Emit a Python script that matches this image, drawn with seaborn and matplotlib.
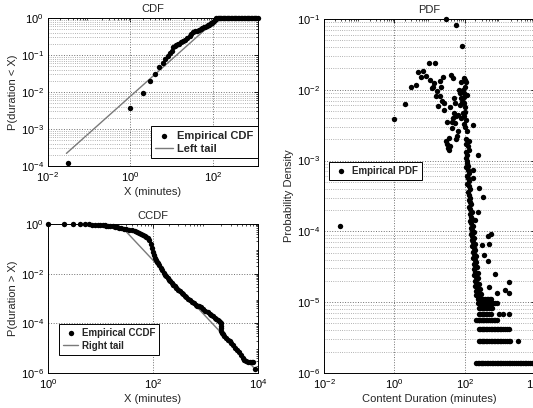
import numpy as np
import pandas as pd
import seaborn as sns
import matplotlib.pyplot as plt
from matplotlib.ticker import LogLocator, NullFormatter

sns.set_style('white')
plt.rcParams['font.family'] = ['Liberation Sans', 'DejaVu Sans']
plt.rcParams['mathtext.fontset'] = 'custom'
plt.rcParams['mathtext.rm'] = 'Liberation Sans'
plt.rcParams['mathtext.default'] = 'regular'

# CDF (empirico + cauda esquerda)
cdf_x = [0.03, 1, 2, 3, 4, 5, 6, 7, 8, 9,
         10, 11, 12, 13, 14, 15, 17, 19, 21, 24,
         27, 30, 33, 36, 40, 45, 50, 55, 60, 65,
         70, 75, 80, 85, 90, 95, 100, 105, 110, 115,
         120, 130, 140, 150, 160, 170, 185, 200, 215, 230,
         250, 270, 290, 315, 340, 370, 400, 430, 470, 510,
         550, 600, 650, 700, 760, 820, 890, 960, 1040, 1120,
         1200]
cdf_y = [1.2e-4, 0.0037, 0.0093, 0.02, 0.031, 0.048, 0.06, 0.078, 0.095, 0.11,
         0.13, 0.16, 0.175, 0.185, 0.195, 0.2, 0.22, 0.24, 0.25, 0.29,
         0.33, 0.37, 0.42, 0.44, 0.45, 0.47, 0.5, 0.53, 0.56, 0.58,
         0.6, 0.63, 0.66, 0.69, 0.72, 0.75, 0.8, 0.85, 0.9, 0.94,
         0.97, 0.99, 0.995, 0.997, 0.998, 0.999, 1.0, 1.0, 1.0, 1.0,
         1.0, 1.0, 1.0, 1.0, 1.0, 1.0, 1.0, 1.0, 1.0, 1.0,
         1.0, 1.0, 1.0, 1.0, 1.0, 1.0, 1.0, 1.0, 1.0, 1.0,
         1.0]
left_tail_x = [0.028, 120]
left_tail_y = [2.2e-4, 0.9]

# CCDF (empirico + cauda direita)
ccdf_x = [1, 2, 3, 4, 5, 6, 7, 8, 9, 10,
          11, 12, 13, 14, 15, 17, 19, 21, 23, 25,
          28, 31, 35, 40, 45, 50, 55, 60, 65, 70,
          75, 80, 85, 90, 95, 100, 105, 110, 115, 120,
          125, 130, 140, 150, 160, 170, 180, 190, 200, 215,
          230, 245, 260, 280, 300, 325, 350, 375, 400, 430,
          460, 500, 550, 600, 650, 700, 760, 820, 900, 1000,
          1100, 1200, 1300, 1400, 1500, 1600, 1700, 1800, 1900, 1950,
          1965, 1985, 2000, 2050, 2150, 2300, 2500, 2700, 2900, 3100,
          3400, 3700, 4000, 4300, 4700, 5100, 5500, 5900, 6400, 7000,
          7600, 8200, 8700]
ccdf_y = [1.0, 0.998, 0.995, 0.99, 0.985, 0.975, 0.96, 0.95, 0.93, 0.92,
          0.9, 0.88, 0.86, 0.85, 0.83, 0.8, 0.77, 0.75, 0.72, 0.69,
          0.66, 0.62, 0.59, 0.57, 0.54, 0.49, 0.45, 0.41, 0.37, 0.34,
          0.31, 0.27, 0.22, 0.16, 0.11, 0.075, 0.055, 0.043, 0.036, 0.031,
          0.027, 0.023, 0.017, 0.014, 0.011, 0.0092, 0.0078, 0.0067, 0.0058, 0.0049,
          0.0042, 0.0036, 0.0031, 0.0027, 0.0023, 0.002, 0.0017, 0.0015, 0.0013, 0.00115,
          0.001, 8.6e-4, 7.3e-4, 6.4e-4, 5.7e-4, 5.2e-4, 4.8e-4, 4.4e-4, 3.8e-4, 3.2e-4,
          2.8e-4, 2.4e-4, 2.1e-4, 1.9e-4, 1.7e-4, 1.5e-4, 1.35e-4, 1.2e-4, 1.1e-4, 1.0e-4,
          8e-5, 6.3e-5, 5e-5, 4.2e-5, 3.6e-5, 3.0e-5, 2.6e-5, 2.2e-5, 1.9e-5, 1.6e-5,
          1.3e-5, 1.05e-5, 8.5e-6, 6.8e-6, 5.2e-6, 4e-6, 3.2e-6, 3e-6, 2.9e-6, 2.85e-6,
          2.8e-6, 2.8e-6, 1.5e-6]
right_tail_x = [27, 8200]
right_tail_y = [0.67, 1.7e-6]

# PDF - pontos espalhados
pdf_x = [0.028, 1.0, 2.0, 2.9, 4.1, 4.7, 5.6, 6.6, 7.9, 9.6,
         10.6, 11.5, 12.6, 13, 14, 15, 16.5, 17.7, 19.5, 20,
         21, 22, 24, 26.5, 26.5, 29, 30, 31, 32, 33,
         35, 36, 37, 39, 41.5, 42, 44, 46, 46, 48,
         50, 52, 52, 55, 57, 58, 62, 64, 64, 71,
         68, 74, 78, 78, 78, 81, 85, 88, 88, 88,
         93, 95, 98, 98, 100, 102, 107, 108, 110, 120,
         136, 136, 170, 233, 170, 170, 260, 320, 241, 200,
         560, 450, 300, 500, 360, 450, 700, 500, 1770, 1350,
         1860, 810, 103, 96, 105, 92, 100, 115, 112, 104]
pdf_y = [1.2e-4, 0.0038, 0.0062, 0.011, 0.0118, 0.0176, 0.0153, 0.0185, 0.0155, 0.024,
         0.0138, 0.0105, 0.011, 0.0125, 0.024, 0.0082, 0.0095, 0.0059, 0.0134, 0.0082,
         0.011, 0.007, 0.0149, 0.0064, 0.0052, 0.1, 0.0019, 0.0017, 0.0035, 0.0015,
         0.0021, 0.0014, 0.0016, 0.0057, 0.016, 0.0035, 0.0029, 0.0145, 0.004, 0.0047,
         0.0076, 0.0064, 0.0034, 0.081, 0.0042, 0.002, 0.0022, 0.0044, 0.0026, 0.0089,
         0.0098, 0.0061, 0.013, 0.0076, 0.004, 0.0068, 0.042, 0.0099, 0.0068, 0.0047,
         0.0146, 0.0079, 0.0089, 0.0064, 0.0057, 0.0135, 0.013, 0.002, 0.0017, 0.0016,
         0.0019, 0.0014, 0.0032, 0.0012, 7.4e-4, 5.6e-4, 4.1e-4, 3.1e-4, 1.9e-4, 1.45e-4,
         9.3e-5, 8.6e-5, 6.4e-5, 6.6e-5, 4.7e-5, 3.8e-5, 2.5e-5, 1.65e-5, 1.95e-5, 1.5e-5,
         1.34e-5, 1.34e-5, 0.0049, 0.0042, 0.0037, 0.0033, 0.003, 0.0026, 0.0085, 0.0108]

# PDF - faixa densa que desce perto de 100-250 min
pdf_band_x = [105, 112, 108, 118, 112, 125, 110, 120, 130, 115,
              125, 135, 118, 128, 140, 122, 133, 145, 128, 140,
              150, 132, 145, 158, 138, 150, 165, 142, 155, 170,
              148, 160, 178, 152, 165, 185, 158, 172, 195, 162,
              178, 200, 168, 185, 210, 172, 190, 215, 178, 195,
              225, 182, 200, 235, 188, 210, 245, 192, 215, 255,
              198, 225, 265, 205, 235, 280, 210, 245]
pdf_band_y = [1.3e-3, 1.2e-3, 1.1e-3, 1.0e-3, 9.2e-4, 8.5e-4, 8.0e-4, 7.4e-4, 6.6e-4, 6.1e-4,
              5.6e-4, 5.1e-4, 4.7e-4, 4.3e-4, 3.9e-4, 3.6e-4, 3.3e-4, 3.0e-4, 2.8e-4, 2.6e-4,
              2.4e-4, 2.2e-4, 2.05e-4, 1.9e-4, 1.75e-4, 1.6e-4, 1.5e-4, 1.4e-4, 1.3e-4, 1.2e-4,
              1.12e-4, 1.05e-4, 9.8e-5, 9.2e-5, 8.5e-5, 8.0e-5, 7.6e-5, 7.0e-5, 6.6e-5, 6.2e-5,
              5.8e-5, 5.4e-5, 5.1e-5, 4.8e-5, 4.5e-5, 4.2e-5, 4.0e-5, 3.7e-5, 3.5e-5, 3.3e-5,
              3.1e-5, 2.9e-5, 2.7e-5, 2.6e-5, 2.4e-5, 2.3e-5, 2.2e-5, 2.0e-5, 1.9e-5, 1.8e-5,
              1.7e-5, 1.6e-5, 1.55e-5, 1.45e-5, 1.4e-5, 1.3e-5, 1.25e-5, 1.2e-5]

# PDF - linhas horizontais (contagens pequenas)
pdf_row_levels = [1.4e-6, 2.8e-6, 4.2e-6, 5.6e-6, 6.9e-6, 8.3e-6, 9.7e-6, 1.11e-5]
row1_x = [215, 235, 255, 280, 310, 340, 380, 420, 470, 520, 580, 650, 720, 800, 900,
          1000, 1100, 1250, 1400, 1550, 1750, 1950, 2200, 2500, 2800, 3200, 3600, 4000,
          4500, 5000, 5600, 6300, 7000, 8000, 9000, 10000]
row2_x = [250, 275, 300, 330, 360, 400, 440, 490, 540, 600, 660, 730, 810, 900, 1000,
          1100, 1250, 1400, 1550, 1750, 1900, 3300]
row3_x = [250, 275, 300, 330, 360, 400, 440, 490, 540, 600, 660, 730, 810, 900, 1000,
          1100, 1250, 1400, 1550, 1750]
row4_x = [210, 230, 250, 275, 300, 330, 360, 400, 440, 490, 540, 600, 660, 730, 810]
row5_x = [250, 275, 300, 330, 360, 400, 440, 490, 540, 950, 1200, 1750]
row6_x = [250, 275, 300, 330, 360, 400, 440, 490, 540, 600]
row7_x = [235, 255, 280, 310, 340, 380, 420, 470, 520, 580, 650, 720, 810]
row8_x = [235, 255, 280, 310, 340, 380, 420, 470, 520, 560]
rows_x = [row1_x, row2_x, row3_x, row4_x, row5_x, row6_x, row7_x, row8_x]

# monta a tabela do PDF
partes = [pd.DataFrame({'x': pdf_x, 'y': pdf_y}),
          pd.DataFrame({'x': pdf_band_x, 'y': pdf_band_y})]
for nivel, xs in zip(pdf_row_levels, rows_x):
    partes.append(pd.DataFrame({'x': xs, 'y': [nivel] * len(xs)}))
Base_PDF = pd.concat(partes, ignore_index=True)

FS = 8
GRID = '#707070'
PONTO = 15


def estilo(ax, xlim, ylim, xticks, yticks, minor_grid):
    ax.set_xscale('log')
    ax.set_yscale('log')
    ax.set_xlim(xlim)
    ax.set_ylim(ylim)
    ax.set_xticks(xticks)
    ax.set_yticks(yticks)
    ax.xaxis.set_minor_formatter(NullFormatter())
    ax.yaxis.set_minor_formatter(NullFormatter())
    ax.tick_params(which='both', direction='in', top=True, right=True,
                   labelsize=FS, pad=3, colors='black')
    ax.tick_params(which='major', length=3, width=0.6)
    ax.tick_params(which='minor', length=1.5, width=0.5)
    ax.grid(True, which='major', ls=':', color=GRID, lw=0.7)
    if minor_grid:
        ax.yaxis.set_minor_locator(LogLocator(base=10, subs=np.arange(2, 10), numticks=30))
        ax.grid(True, which='minor', axis='y', ls=':', color='#999999', lw=0.6)
    for s in ax.spines.values():
        s.set_color('black')
        s.set_linewidth(0.7)
    ax.set_axisbelow(True)


def legenda(ax, anchor, loc, tam):
    ax.legend(loc=loc, bbox_to_anchor=anchor, frameon=True,
              prop={'size': tam, 'weight': 'bold'},
              fancybox=False, edgecolor='black', framealpha=1, borderaxespad=0,
              handlelength=1.6, handletextpad=0.4, borderpad=0.4, labelspacing=0.3)
    ax.get_legend().get_frame().set_linewidth(0.7)


fig = plt.figure(figsize=(5.33, 4.08), dpi=100)
ax1 = fig.add_axes([0.090, 0.593, 0.394, 0.363])
ax2 = fig.add_axes([0.090, 0.0858, 0.394, 0.365])
ax3 = fig.add_axes([0.608, 0.0858, 0.396, 0.868])

# CDF
sns.scatterplot(x=cdf_x, y=cdf_y, ax=ax1, color='black', s=PONTO, linewidth=0,
                label='Empirical CDF', clip_on=False, zorder=3)
sns.lineplot(x=left_tail_x, y=left_tail_y, ax=ax1, color='#7a7a7a', lw=1,
             label='Left tail', zorder=2)
estilo(ax1, (1e-2, 1230), (1e-4, 1), [1e-2, 1, 1e2], [1e-4, 1e-3, 1e-2, 1e-1, 1], True)
ax1.set_title('CDF', fontsize=FS, pad=4)
ax1.set_xlabel('X (minutes)', fontsize=FS, labelpad=2)
ax1.set_ylabel('P(duration < X)', fontsize=FS, labelpad=2)
legenda(ax1, (1.0, 0.27), 'upper right', 8)

# CCDF
sns.scatterplot(x=ccdf_x, y=ccdf_y, ax=ax2, color='black', s=PONTO, linewidth=0,
                label='Empirical CCDF', clip_on=False, zorder=3)
sns.lineplot(x=right_tail_x, y=right_tail_y, ax=ax2, color='#7a7a7a', lw=1,
             label='Right tail', zorder=2)
estilo(ax2, (1, 1e4), (1e-6, 1), [1, 1e2, 1e4], [1e-6, 1e-4, 1e-2, 1], False)
ax2.set_title('CCDF', fontsize=FS, pad=4)
ax2.set_xlabel('X (minutes)', fontsize=FS, labelpad=2)
ax2.set_ylabel('P(duration > X)', fontsize=FS, labelpad=2)
legenda(ax2, (0.052, 0.329), 'upper left', 7)

# PDF
sns.scatterplot(data=Base_PDF, x='x', y='y', ax=ax3, color='black', s=PONTO, linewidth=0,
                label='Empirical PDF', clip_on=False, zorder=3)
estilo(ax3, (1e-2, 1e4), (1e-6, 1e-1), [1e-2, 1, 1e2, 1e4],
       [1e-6, 1e-5, 1e-4, 1e-3, 1e-2, 1e-1], True)
ax3.set_title('PDF', fontsize=FS, pad=4)
ax3.set_xlabel('Content Duration (minutes)', fontsize=FS, labelpad=2)
ax3.set_ylabel('Probability Density', fontsize=FS, labelpad=2)
legenda(ax3, (0.024, 0.596), 'upper left', 7)

plt.savefig('out.png', dpi=100)
